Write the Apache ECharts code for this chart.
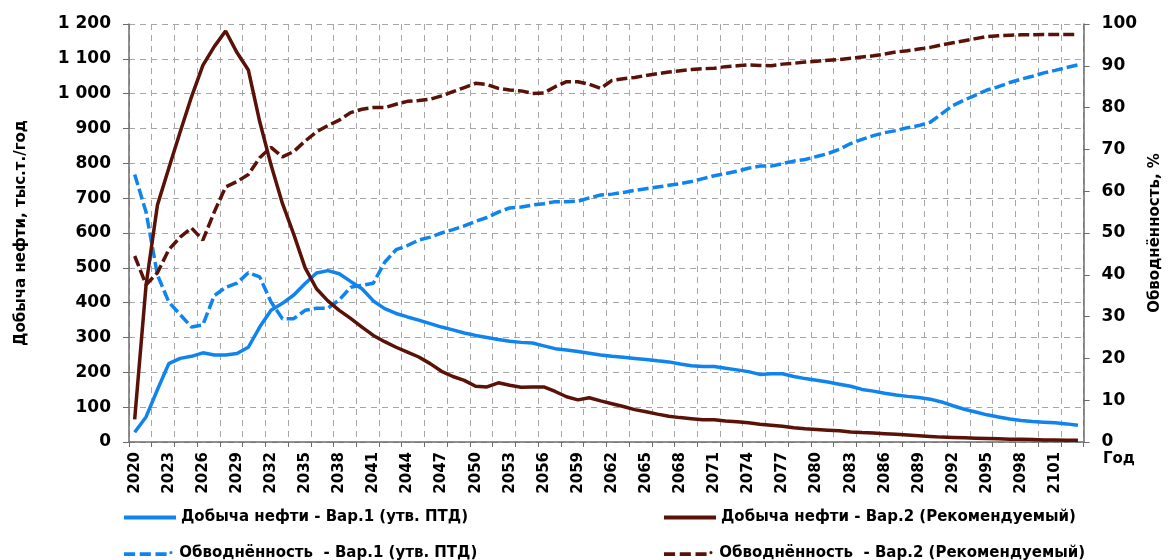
<!DOCTYPE html>
<html>
<head>
<meta charset="utf-8">
<script src="https://cdn.jsdelivr.net/npm/echarts@6/dist/echarts.min.js"></script>
<style>
  html, body { margin: 0; padding: 0; background: #fff; }
  #chart { width: 1171px; height: 560px; }
</style>
</head>
<body>
<div id="chart"></div>
<script>
// years 2020 .. 2103
const years = [];
for (let y = 2020; y <= 2103; y++) years.push(String(y));

// oil production, var.1, kt/year
const oilVar1 = [
  28, 72, 150, 225, 240, 246, 256, 250, 250, 254,
  272, 330, 378, 398, 422, 455, 485, 492, 483, 461,
  440, 405, 383, 369, 359, 350, 340, 330, 322, 313,
  306, 300, 294, 289, 286, 284, 276, 268, 264, 260,
  255, 250, 246, 243, 240, 237, 233, 230, 224, 219,
  217, 217, 212, 207, 202, 194, 196, 196, 188, 182,
  177, 172, 166, 160, 151, 146, 140, 135, 131, 128,
  123, 115, 104, 94, 86, 78, 72, 66, 62, 59,
  57, 55, 52, 48
];

// oil production, var.2, kt/year
const oilVar2 = [
  65, 450, 680, 786, 890, 991, 1081, 1135, 1180, 1118,
  1068, 920, 795, 685, 596, 500, 440, 405, 378, 355,
  330, 306, 288, 272, 258, 244, 225, 203, 188, 177,
  160, 158, 170, 163, 157, 158, 158, 145, 130, 121,
  127, 118, 110, 102, 93, 87, 80, 74, 70, 67,
  64, 64, 60, 58, 55, 51, 48, 45, 41, 38,
  36, 34, 32, 29, 27, 26, 24, 22, 20, 18,
  16, 14, 13, 12, 11, 10, 9, 8, 8, 7,
  6, 6, 5, 5
];

// water cut, var.1, %
const wcVar1 = [
  64, 55, 40, 33.5, 30.5, 27.5, 28, 35, 37, 38,
  40.5, 39.5, 33.5, 29.5, 29.5, 31.5, 32, 32, 34, 37,
  37.5, 38, 43, 46, 47, 48.3, 49, 50, 50.8, 51.7,
  52.8, 53.7, 55, 56, 56.2, 56.7, 57, 57.5, 57.5, 57.6,
  58.4, 59.1, 59.3, 59.7, 60.2, 60.6, 61, 61.4, 61.8, 62.3,
  63, 63.7, 64.2, 64.8, 65.5, 66, 66, 66.6, 67.2, 67.6,
  68.3, 69, 70, 71.4, 72.4, 73.3, 74, 74.5, 75.2, 75.7,
  76.5, 78.5, 80.5, 81.8, 83, 84.2, 85, 86, 86.8, 87.5,
  88.3, 88.9, 89.6, 90.2
];

// water cut, var.2, %
const wcVar2 = [
  44.5, 37.6, 40.5, 46, 49, 51.2, 48.3, 55, 61, 62.3,
  64, 68, 70.5, 68.2, 69.5, 72, 74.2, 75.7, 77, 78.8,
  79.6, 80, 80, 80.8, 81.5, 81.7, 82, 82.8, 83.8, 84.8,
  85.8, 85.5, 84.6, 84.2, 84, 83.4, 83.5, 85, 86.2, 86.2,
  85.6, 84.6, 86.5, 86.9, 87.2, 87.7, 88.1, 88.5, 88.8, 89.1,
  89.3, 89.4, 89.8, 90, 90.2, 90.1, 90, 90.4, 90.6, 90.9,
  91.1, 91.3, 91.5, 91.8, 92.1, 92.4, 92.8, 93.3, 93.6, 94,
  94.4, 95, 95.5, 96, 96.5, 97, 97.2, 97.3, 97.4, 97.4,
  97.5, 97.5, 97.5, 97.5
];

const seriesNames = [
  "Добыча нефти - Вар.1 (утв. ПТД)",
  "Обводнённость  - Вар.1 (утв. ПТД)",
  "Добыча нефти - Вар.2 (Рекомендуемый)",
  "Обводнённость  - Вар.2 (Рекомендуемый)"
];

const BLUE = "#0f84ee";
const BROWN = "#5a1208";
const FONT = "DejaVu Sans";
const LABEL_STEP = 3;

// legend icons: solid and dashed line
const ICON_SOLID = "path://M0,0h52v4h-52z";
const ICON_DASH = "path://M0,0h12v4h-12z M17,0h12v4h-12z M34,0h12v4h-12z M49,0.3a1.7,1.7 0 1,0 3.4,0a1.7,1.7 0 1,0 -3.4,0z";

const chart = echarts.init(document.getElementById("chart"));

const axisLine = { show: true, lineStyle: { color: "#6b6b6b", width: 1.5 } };
const boldText = { fontFamily: FONT, fontWeight: "bold", color: "#000" };

function lineSeries(name, data, color, dashed, yIdx) {
  return {
    name: name,
    type: "line",
    yAxisIndex: yIdx,
    data: data,
    symbol: "none",
    lineStyle: { width: 3.5, type: dashed ? [11, 4] : "solid", color: color },
    z: 3,
    itemStyle: { color: color }
  };
}

function oneLegend(name, icon, left, top) {
  return {
    left: left, top: top,
    itemWidth: 52, itemHeight: 5,
    data: [{ name: name, icon: icon }],
    textStyle: Object.assign({ fontSize: 15 }, boldText)
  };
}

chart.setOption({
  animation: false,
  grid: { left: 129, right: 81, top: 24, bottom: 118 },
  legend: [
    oneLegend(seriesNames[0], ICON_SOLID, 119, 505),
    oneLegend(seriesNames[1], ICON_DASH, 119, 541),
    oneLegend(seriesNames[2], ICON_SOLID, 659, 505),
    oneLegend(seriesNames[3], ICON_DASH, 659, 541)
  ],
  graphic: {
    elements: [
      { id: "yearName", type: "text", left: 1103, top: 452, style: { text: "Год", font: "bold 15px 'DejaVu Sans'", fill: "#000" } }
    ]
  },
  xAxis: {
    type: "category",
    data: years,
    axisLine: axisLine,
    axisTick: { show: true, interval: 1, length: 5, lineStyle: { color: "#6b6b6b" } },
    axisLabel: { interval: LABEL_STEP - 1, rotate: 90, margin: 10, fontSize: 15, fontFamily: FONT, fontWeight: "bold", color: "#000" },
    splitLine: { show: true, interval: 1, lineStyle: { color: "#a6a6a6", type: [6, 5] } }
  },
  yAxis: [
    {
      type: "value",
      min: 0, max: 1200, interval: 100,
      name: "Добыча нефти, тыс.т./год",
      nameLocation: "middle",
      nameRotate: 90,
      nameGap: 100,
      nameTextStyle: Object.assign({ fontSize: 15 }, boldText),
      axisLine: axisLine,
      axisTick: { show: true, length: 6, lineStyle: { color: "#6b6b6b" } },
      axisLabel: Object.assign({
        margin: 18, fontSize: 17,
        formatter: function (v) {
          return v >= 1000 ? Math.floor(v / 1000) + " " + String(v % 1000).padStart(3, "0") : String(v);
        }
      }, boldText),
      splitLine: { lineStyle: { color: "#a6a6a6", type: [6, 5] } }
    },
    {
      type: "value",
      min: 0, max: 100, interval: 10,
      position: "right",
      name: "Обводнённость, %",
      nameLocation: "middle",
      nameRotate: 90,
      nameGap: 58,
      nameTextStyle: Object.assign({ fontSize: 15 }, boldText),
      axisLine: axisLine,
      axisTick: { show: true, length: 6, lineStyle: { color: "#6b6b6b" } },
      axisLabel: Object.assign({ margin: 18, fontSize: 17 }, boldText),
      splitLine: { show: false }
    }
  ],
  series: [
    lineSeries(seriesNames[0], oilVar1, BLUE, false, 0),
    lineSeries(seriesNames[1], wcVar1, BLUE, true, 1),
    lineSeries(seriesNames[2], oilVar2, BROWN, false, 0),
    lineSeries(seriesNames[3], wcVar2, BROWN, true, 1)
  ]
});

// check that the year labels really came out vertical
function yearLabelsRotated() {
  const list = chart.getZr().storage.getDisplayList(true);
  for (let i = 0; i < list.length; i++) {
    const el = list[i];
    if (el.style && el.style.text === years[LABEL_STEP]) {
      const m = el.transform;
      return !!(m && Math.abs(m[1]) > 0.5);
    }
  }
  return false;
}

// if not, put the year labels at the axis positions with rotated text
if (!yearLabelsRotated()) {
  const baseY = chart.convertToPixel({ yAxisIndex: 0 }, 0);
  const labels = [];
  years.forEach(function (yr, i) {
    if (i % LABEL_STEP !== 0) return;
    labels.push({
      id: "yr" + yr,
      type: "text",
      x: chart.convertToPixel({ xAxisIndex: 0 }, yr),
      y: baseY + 10,
      rotation: Math.PI / 2,
      silent: true,
      style: { text: yr, font: "bold 15px 'DejaVu Sans'", fill: "#000", align: "right", verticalAlign: "middle" }
    });
  });
  chart.setOption({
    xAxis: { axisLabel: { show: false } },
    graphic: { elements: labels }
  });
}
</script>
</body>
</html>
